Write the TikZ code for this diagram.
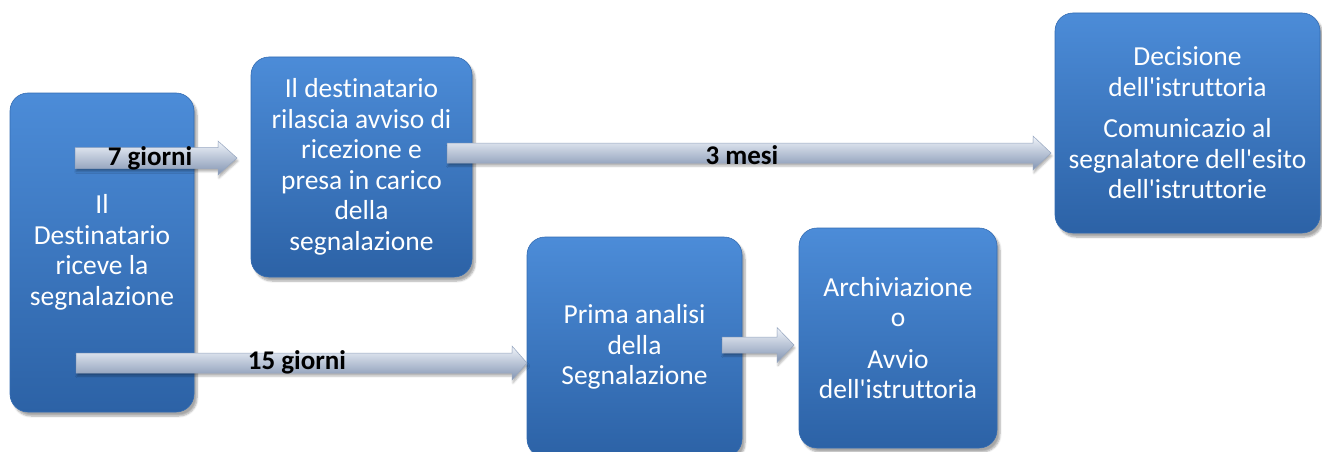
\documentclass[tikz,border=0pt]{standalone}
\usepackage{fontspec}
\setmainfont{Carlito}[Ligatures={TeXOff,CommonOff}]
\usetikzlibrary{calc,shadows.blur}
\definecolor{boxtop}{RGB}{76,140,216}
\definecolor{boxbot}{RGB}{44,98,166}
\definecolor{boxedge}{RGB}{52,108,178}
\definecolor{arrtop}{RGB}{240,244,250}
\definecolor{arrmid}{RGB}{200,213,233}
\definecolor{arrbot}{RGB}{130,148,178}
\definecolor{arredge}{RGB}{150,166,192}
\tikzset{
  box/.style={rounded corners=18pt, top color=boxtop, bottom color=boxbot,
    draw=boxedge, line width=0.6pt, text=white, align=center, inner sep=0pt,
    font=\fontsize{27.5}{30.5}\selectfont,
    blur shadow={shadow xshift=3pt, shadow yshift=-4pt, shadow opacity=35, shadow blur steps=6}},
  arrowbody/.style={top color=arrtop, middle color=arrmid, bottom color=arrbot,
    draw=arredge, line width=0.5pt,
    blur shadow={shadow xshift=1pt, shadow yshift=-3pt, shadow opacity=30, shadow blur steps=4}},
  lbl/.style={font=\bfseries\fontsize{27}{30}\selectfont, text=black, inner sep=0pt}
}
% #1 start, #2 tip, #3 shaft half height, #4 head half height, #5 head length
\newcommand{\blockarr}[5]{%
  \path[arrowbody] let \p1=(#1), \p2=(#2) in
    (\x1,\y1+#3) -- (\x2-#5,\y1+#3) -- (\x2-#5,\y1+#4) -- (\x2,\y1)
    -- (\x2-#5,\y1-#4) -- (\x2-#5,\y1-#3) -- (\x1,\y1-#3) -- cycle;}
\begin{document}
\begin{tikzpicture}[x=1pt,y=-1pt]
\useasboundingbox (0,0) rectangle (1322,452);
% boxes
\node[box, minimum width=184pt, minimum height=319pt] (A) at (102,252.5)
  {Il\\ Destinatario\\ riceve la\\ segnalazione};
\node[box, minimum width=221pt, minimum height=220pt] (B) at (361.5,167)
  {Il destinatario\\ rilascia avviso di\\ ricezione e\\ presa in carico\\ della\\ segnalazione};
\node[box, minimum width=265pt, minimum height=220pt] (C) at (1187.5,123)
  {Decisione\\ dell'istruttoria\\[11pt] Comunicazio al\\ segnalatore dell'esito\\ dell'istruttorie};
\node[box, minimum width=215pt, minimum height=220pt] (D) at (634.5,347)
  {Prima analisi\\ della\\ Segnalazione};
\node[box, minimum width=198pt, minimum height=220pt] (E) at (898,338)
  {Archiviazione\\ o\\[11pt] Avvio\\ dell'istruttoria};
% arrow end points
\coordinate (s7) at (75,158);   \coordinate (t7) at (237,158);
\coordinate (s3) at (447,153);  \coordinate (t3) at (1051,153);
\coordinate (s15) at (76,363);  \coordinate (t15) at (527,363);
\coordinate (sDE) at (722,345); \coordinate (tDE) at (794,345);
% arrows
\blockarr{s7}{t7}{10.5pt}{17pt}{19pt}
\blockarr{s3}{t3}{10pt}{17pt}{18pt}
\blockarr{s15}{t15}{10pt}{17pt}{15pt}
\blockarr{sDE}{tDE}{8pt}{17.5pt}{17pt}
% labels
\node[lbl] (l7) at (150,158) {7 giorni};
\node[lbl] (l3) at (742,155) {3 mesi};
\node[lbl] (l15) at (297,362) {15 giorni};
\end{tikzpicture}
\end{document}
